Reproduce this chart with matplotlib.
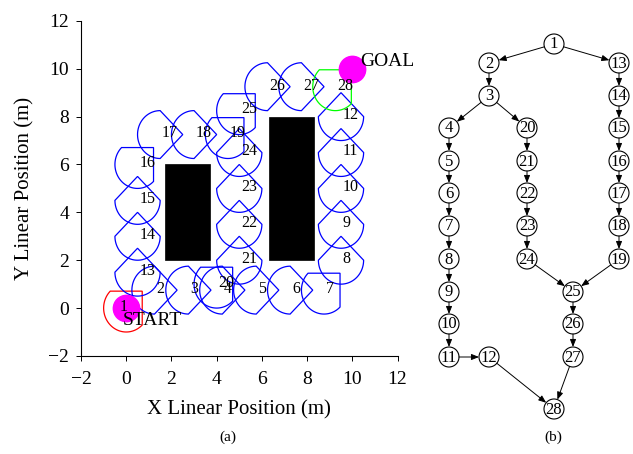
import numpy as np
import matplotlib
matplotlib.use('Agg')
import matplotlib.pyplot as plt
from matplotlib.patches import Polygon, Rectangle, Circle

plt.rcParams['font.family'] = ['Liberation Serif', 'DejaVu Serif']
plt.rcParams['mathtext.fontset'] = 'stix'

# ===== DATA PART =====
# cells of the plan, (a)
cell_x = [0, 1.25, 2.75, 4.25, 5.75, 7.25, 8.75, 9.5, 9.5, 9.5, 9.5, 9.5,
          0.5, 0.5, 0.5, 0.5, 1.5, 3.0, 4.5, 4.0, 5.0, 5.0, 5.0, 5.0, 5.0,
          6.25, 7.75, 9.25]
cell_y = [0, 0.75, 0.75, 0.75, 0.75, 0.75, 0.75, 2.0, 3.5, 5.0, 6.5, 8.0,
          1.5, 3.0, 4.5, 6.0, 7.25, 7.25, 7.25, 1.0, 2.0, 3.5, 5.0, 6.5, 8.25,
          9.25, 9.25, 9.25]
# direction of the pointed side of each cell (deg)
cell_dir = [45, 0, 0, 0, 0, 0, 45, 90, 90, 90, 90, 90,
            90, 90, 90, 45, 0, 0, 45, 45, 90, 90, 90, 90, 45,
            0, 0, 45]
cell_r = 1.0

# obstacles: (x0, y0, width, height)
obstacles = [(1.7, 2.0, 2.0, 4.0), (6.3, 2.0, 2.0, 6.0)]
start = (0, 0)
goal = (10, 10)

# graph of the cells, (b) - node layout (pixels)
node_x = [554, 489, 489, 449, 449, 449, 449, 449, 449, 449, 449, 489,
          619, 619, 619, 619, 619, 619, 619, 527, 527, 527, 527, 527,
          573, 573, 573, 554]
node_y = [44, 63, 96, 128, 161, 193, 226, 259, 292, 324, 357, 357,
          63, 96, 128, 161, 193, 226, 259, 128, 161, 193, 226, 259,
          292, 324, 357, 409]
edges = [(1, 2), (1, 13), (2, 3), (3, 4), (3, 20), (4, 5), (5, 6), (6, 7),
         (7, 8), (8, 9), (9, 10), (10, 11), (11, 12), (12, 28),
         (13, 14), (14, 15), (15, 16), (16, 17), (17, 18), (18, 19), (19, 25),
         (20, 21), (21, 22), (22, 23), (23, 24), (24, 25),
         (25, 26), (26, 27), (27, 28)]
# ===== DATA PART =====


def cell_outline(cx, cy, d, r):
    # half circle at the back, two chords meeting at the tip in front
    t = np.radians(np.linspace(d + 90, d + 270, 60))
    pts = list(zip(cx + r * np.cos(t), cy + r * np.sin(t)))
    dr = np.radians(d)
    pts.append((cx + r * np.cos(dr), cy + r * np.sin(dr)))
    return pts


fig = plt.figure(figsize=(6.33, 4.54), dpi=100)
ax = fig.add_axes([0.128, 0.216, 0.5, 0.738])

for (x0, y0, w, h) in obstacles:
    ax.add_patch(Rectangle((x0, y0), w, h, facecolor='k', edgecolor='k', lw=0.5))

n = len(cell_x)
for i in range(n):
    if i == 0:
        col = 'red'
    elif i == n - 1:
        col = 'lime'
    else:
        col = 'blue'
    ax.add_patch(Polygon(cell_outline(cell_x[i], cell_y[i], cell_dir[i], cell_r),
                         closed=True, fill=False, edgecolor=col, lw=0.9))

ax.plot(*start, 'o', ms=19, color='magenta', zorder=5)
ax.plot(*goal, 'o', ms=19, color='magenta', zorder=5)

for i in range(n):
    dx = -0.3 if i == 0 else 0.08
    ax.text(cell_x[i] + dx, cell_y[i] + 0.05, str(i + 1), fontsize=11.5,
            ha='left', va='center', zorder=6)
ax.text(start[0] - 0.15, start[1] - 0.5, 'START', fontsize=14, ha='left', va='center', zorder=6)
ax.text(goal[0] + 0.35, goal[1] + 0.3, 'GOAL', fontsize=14, ha='left', va='center', zorder=6)

ax.set_xlim(-2, 12)
ax.set_ylim(-2, 12)
ax.set_xticks(np.arange(-2, 13, 2))
ax.set_yticks(np.arange(-2, 13, 2))
ax.spines['top'].set_visible(False)
ax.spines['right'].set_visible(False)
ax.tick_params(direction='out', length=3.5, width=0.7, labelsize=14, pad=5)
ax.tick_params(axis='x', pad=7)
ax.set_xlabel('X Linear Position (m)', fontsize=15, labelpad=9)
ax.set_ylabel('Y Linear Position (m)', fontsize=15, labelpad=10)

# graph panel in pixel units
gx = fig.add_axes([0, 0, 1, 1])
gx.patch.set_visible(False)
gx.set_xlim(0, 633)
gx.set_ylim(454, 0)
gx.axis('off')
node_r = 10
for i in range(n):
    gx.add_patch(Circle((node_x[i], node_y[i]), node_r, fill=False, edgecolor='k', lw=0.8))
    gx.text(node_x[i], node_y[i] + 0.5, str(i + 1), fontsize=12, ha='center', va='center')
for a, b in edges:
    gx.annotate('', xy=(node_x[b - 1], node_y[b - 1]), xytext=(node_x[a - 1], node_y[a - 1]),
                arrowprops=dict(arrowstyle='-|>,head_length=0.45,head_width=0.18',
                                color='k', lw=0.7, shrinkA=7.2, shrinkB=7.2))

fig.text(228 / 633, 1 - 437 / 454, '(a)', fontsize=11, ha='center', va='center')
fig.text(553 / 633, 1 - 437 / 454, '(b)', fontsize=11, ha='center', va='center')

fig.savefig('out.png', dpi=100)
